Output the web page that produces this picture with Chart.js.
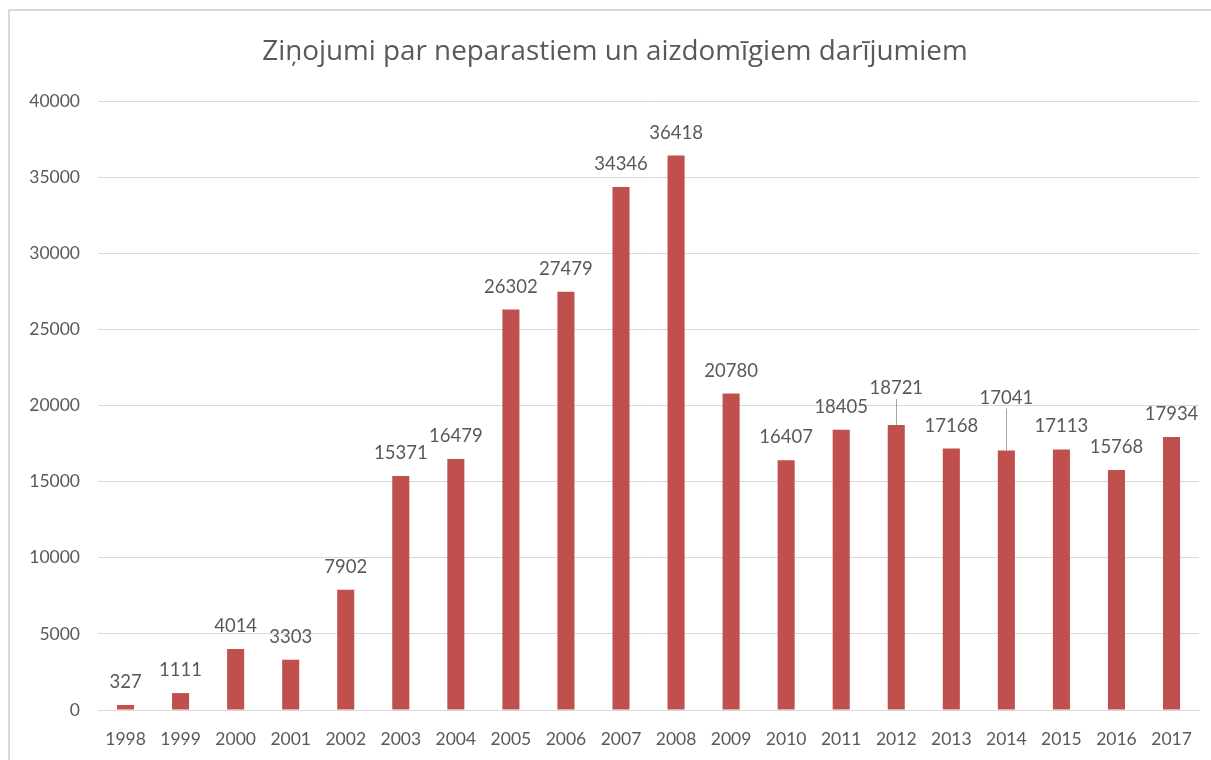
<!DOCTYPE html>
<html>
<head>
<meta charset="utf-8">
<script src="https://cdn.jsdelivr.net/npm/chart.js@4"></script>
<style>
  html, body { margin: 0; padding: 0; background: #fff; }
  #frame {
    position: absolute; left: 8px; top: 9px; width: 1220px; height: 780px;
    border: 2px solid #d9d9d9; box-sizing: border-box;
  }
  #wrap { position: absolute; left: 0; top: 0; width: 1211px; height: 760px; }
</style>
</head>
<body>
<div id="frame"></div>
<div id="wrap"><canvas id="chart"></canvas></div>
<script>
// chart data
const years = ["1998", "1999", "2000", "2001", "2002", "2003", "2004", "2005", "2006", "2007",
               "2008", "2009", "2010", "2011", "2012", "2013", "2014", "2015", "2016", "2017"];
const reports = [327, 1111, 4014, 3303, 7902, 15371, 16479, 26302, 27479, 34346,
                 36418, 20780, 16407, 18405, 18721, 17168, 17041, 17113, 15768, 17934];
const yTicks = [0, 5000, 10000, 15000, 20000, 25000, 30000, 35000, 40000];
const chartTitle = "Ziņojumi par neparastiem un aizdomīgiem darījumiem";

// extra lift for labels moved by hand (drawn with a leader line)
const labelLift = { "2012": 14, "2014": 30 };

const textGray = "#595959";
const fontFamily = "Lato, 'Open Sans', sans-serif";

// title centred on the outer frame, not the canvas
const frameTitle = {
    id: "frameTitle",
    afterDraw(chart) {
        const ctx = chart.ctx;
        ctx.save();
        ctx.font = "27.8px 'Open Sans', Lato, sans-serif";
        ctx.fillStyle = textGray;
        ctx.textAlign = "center";
        ctx.textBaseline = "middle";
        ctx.fillText(chartTitle, 615, 52);
        ctx.restore();
    }
};

// value labels above the bars
const barLabels = {
    id: "barLabels",
    afterDatasetsDraw(chart) {
        const ctx = chart.ctx;
        const meta = chart.getDatasetMeta(0);
        ctx.save();
        ctx.font = "18.5px " + fontFamily;
        ctx.fillStyle = textGray;
        ctx.textAlign = "center";
        ctx.textBaseline = "middle";
        meta.data.forEach((bar, i) => {
            const lift = labelLift[years[i]] || 0;
            const y = bar.y - 23 - lift;
            ctx.fillText(String(reports[i]), bar.x, y);
            if (lift) {
                ctx.strokeStyle = "#a6a6a6";
                ctx.lineWidth = 1;
                ctx.beginPath();
                ctx.moveTo(Math.round(bar.x) + 0.5, y + 11);
                ctx.lineTo(Math.round(bar.x) + 0.5, bar.y);
                ctx.stroke();
            }
        });
        ctx.restore();
    }
};

new Chart(document.getElementById("chart"), {
    type: "bar",
    data: {
        labels: years,
        datasets: [{
            data: reports,
            backgroundColor: "#c0504d",
            borderWidth: 0,
            barPercentage: 0.31,
            categoryPercentage: 1
        }]
    },
    options: {
        responsive: true,
        maintainAspectRatio: false,
        animation: false,
        layout: { padding: { left: 0, right: 7, top: 101, bottom: 0 } },
        plugins: {
            legend: { display: false },
            tooltip: { enabled: false },
            title: { display: false }
        },
        scales: {
            x: {
                grid: { display: false, drawTicks: false },
                border: { color: "#d9d9d9", width: 1 },
                ticks: {
                    color: textGray,
                    font: { family: fontFamily, size: 17.5 },
                    padding: 19,
                    maxRotation: 0,
                    autoSkip: false
                },
                afterFit(scale) { scale.height = 50; }
            },
            y: {
                min: 0,
                max: 40000,
                afterBuildTicks(scale) { scale.ticks = yTicks.map(v => ({ value: v })); },
                grid: { color: "#d9d9d9", drawTicks: false },
                border: { display: false },
                ticks: {
                    color: textGray,
                    font: { family: fontFamily, size: 17.5 },
                    padding: 18,
                    callback: (v) => String(v)
                },
                afterFit(scale) { scale.width = 98; }
            }
        }
    },
    plugins: [barLabels, frameTitle]
});
</script>
</body>
</html>
